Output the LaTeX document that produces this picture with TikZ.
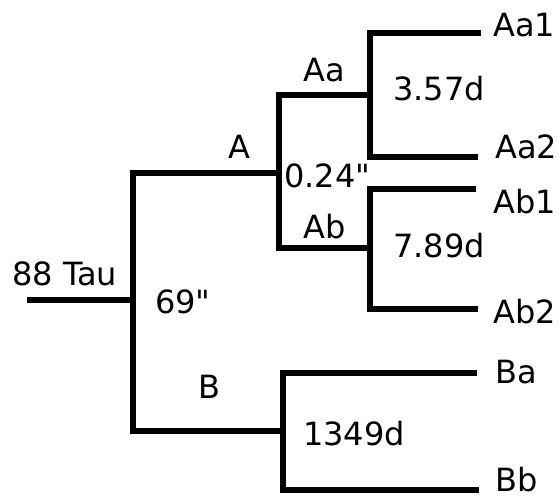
\documentclass[tikz,border=0pt]{standalone}
\usepackage{fontspec}
\setmainfont{DejaVu Sans}[Ligatures=TeXOff]
\tikzstyle{EdgeTree}=[line width=5.5pt]
\tikzstyle{LabelTree}=[inner sep=0pt,anchor=base west,font=\fontsize{32}{38}\selectfont]
\begin{document}
\begin{tikzpicture}[x=1pt,y=-1pt]
        \useasboundingbox (0,0) rectangle (559,500);
        % junctions
        \coordinate(tau)at(27,300);
        \coordinate(nTau)at(133,300);
        \coordinate(nA)at(279,173);
        \coordinate(nB)at(283,431);
        \coordinate(nAa)at(370,95);
        \coordinate(nAb)at(370,248);
        % leaf ends
        \coordinate(eAa1)at(481,33);
        \coordinate(eAa2)at(478,157);
        \coordinate(eAb1)at(476,189);
        \coordinate(eAb2)at(478,309);
        \coordinate(eBa)at(477,373);
        \coordinate(eBb)at(479,490);
        % branches
        \draw[EdgeTree](tau)--(nTau);
        \draw[EdgeTree](nA)-|(nTau)|-(nB);
        \draw[EdgeTree](nAa)-|(nA)|-(nAb);
        \draw[EdgeTree](eAa1)-|(nAa)|-(eAa2);
        \draw[EdgeTree](eAb1)-|(nAb)|-(eAb2);
        \draw[EdgeTree](eBa)-|(nB)|-(eBb);
        % labels
        \node[LabelTree](lTau)at(12,285){88 Tau};
        \node[LabelTree](lSepAB)at(155,313){69"};
        \node[LabelTree](lA)at(228,158){A};
        \node[LabelTree](lB)at(198,398){B};
        \node[LabelTree](lAa)at(303,82){Aa};
        \node[LabelTree](lAb)at(303,238){Ab};
        \node[LabelTree](lSepA)at(284,187){0.24"};
        \node[LabelTree](lPerAa)at(393,101){3.57d};
        \node[LabelTree](lPerAb)at(393,257){7.89d};
        \node[LabelTree](lPerB)at(303,445){1349d};
        \node[LabelTree](lAa1)at(493,37){Aa1};
        \node[LabelTree](lAa2)at(495,158){Aa2};
        \node[LabelTree](lAb1)at(493,213){Ab1};
        \node[LabelTree](lAb2)at(493,323){Ab2};
        \node[LabelTree](lBa)at(495,383){Ba};
        \node[LabelTree](lBb)at(495,491){Bb};
    \end{tikzpicture}
\end{document}
